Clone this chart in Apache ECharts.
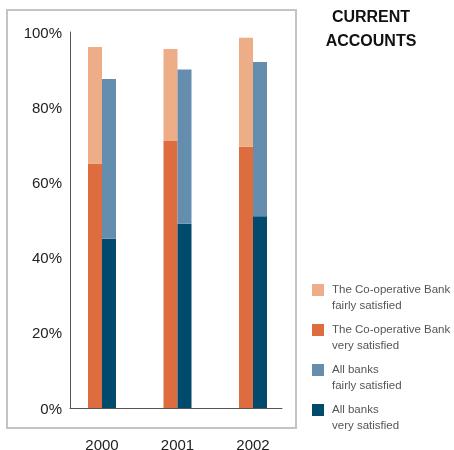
<!DOCTYPE html>
<html>
<head>
<meta charset="utf-8">
<script src="https://cdn.jsdelivr.net/npm/echarts@6/dist/echarts.min.js"></script>
<style>html,body{margin:0;padding:0;background:#fff}#c{width:454px;height:450px}</style>
</head>
<body>
<div id="c"></div>
<script>
var years = ['2000', '2001', '2002'];
var coopVery = [65, 71, 69.5];
var coopFairly = [31, 24.5, 29];
var allVery = [45, 49, 51];
var allFairly = [42.5, 41, 41];
var yTicks = [0, 20, 40, 60, 80, 100];

var names = [
  'The Co-operative Bank\nfairly satisfied',
  'The Co-operative Bank\nvery satisfied',
  'All banks\nfairly satisfied',
  'All banks\nvery satisfied'
];
var colors = ['#EDAD86', '#DD6C3E', '#648DAE', '#004A6D'];
var FONT = "'Liberation Sans', Arial, Helvetica, sans-serif";

var chart = echarts.init(document.getElementById('c'), null, {renderer: 'canvas'});

function legendAt(i, top) {
  return {
    data: [names[i]], left: 312, top: top, padding: 0, orient: 'vertical',
    icon: 'rect', itemWidth: 12, itemHeight: 12, selectedMode: false,
    formatter: function (n) { return ' \n' + n; },
    textStyle: {fontFamily: FONT, fontSize: 11.5, lineHeight: 16, color: '#555', padding: [0, 0, 0, 3]}
  };
}

var option = {
  animation: false,
  backgroundColor: '#fff',
  title: {
    text: 'CURRENT\nACCOUNTS', left: 371, top: 6, padding: 0, textAlign: 'center',
    textStyle: {fontFamily: FONT, fontSize: 16, fontWeight: 'bold', lineHeight: 24, color: '#111'}
  },
  legend: [legendAt(0, 266), legendAt(1, 306), legendAt(2, 346), legendAt(3, 386)],
  graphic: [{
    type: 'rect', shape: {x: 7, y: 10, width: 289, height: 418},
    style: {fill: 'none', stroke: '#c4c4c4', lineWidth: 2}, z: 0
  }],
  grid: [
    {left: 64.25, right: 163.25, top: 32, bottom: 42, outerBoundsMode: 'none', containLabel: false},
    {left: 70, right: 172, top: 32, bottom: 42, outerBoundsMode: 'none', containLabel: false}
  ],
  xAxis: [
    {type: 'category', gridIndex: 0, data: years, boundaryGap: true,
     axisLine: {show: false}, axisTick: {show: false},
     axisLabel: {fontFamily: FONT, fontSize: 15, color: '#222', margin: 30}},
    {type: 'value', gridIndex: 1, min: 0, max: 1,
     axisLine: {show: true, lineStyle: {color: '#555', width: 1}},
     axisTick: {show: false}, axisLabel: {show: false}, splitLine: {show: false}}
  ],
  yAxis: [
    {type: 'value', gridIndex: 0, min: 0, max: 100, show: false},
    {type: 'value', gridIndex: 1, min: 0, max: 100, interval: 20,
     axisLine: {show: true, lineStyle: {color: '#555', width: 1}},
     axisTick: {show: false}, splitLine: {show: false},
     axisLabel: {fontFamily: FONT, fontSize: 15, color: '#222', margin: 8,
       verticalAlign: 'top', lineHeight: 3,
       formatter: function (v) { return yTicks.indexOf(v) >= 0 ? v + '%' : ''; }}}
  ],
  series: [
    {name: names[1], type: 'bar', stack: 'coop', data: coopVery, barWidth: 14, barGap: '0%', itemStyle: {color: colors[1]}, xAxisIndex: 0, yAxisIndex: 0},
    {name: names[0], type: 'bar', stack: 'coop', data: coopFairly, barWidth: 14, barGap: '0%', itemStyle: {color: colors[0]}, xAxisIndex: 0, yAxisIndex: 0},
    {name: names[3], type: 'bar', stack: 'all', data: allVery, barWidth: 14, barGap: '0%', itemStyle: {color: colors[3]}, xAxisIndex: 0, yAxisIndex: 0},
    {name: names[2], type: 'bar', stack: 'all', data: allFairly, barWidth: 14, barGap: '0%', itemStyle: {color: colors[2]}, xAxisIndex: 0, yAxisIndex: 0}
  ]
};
chart.setOption(option);
</script>
</body>
</html>
